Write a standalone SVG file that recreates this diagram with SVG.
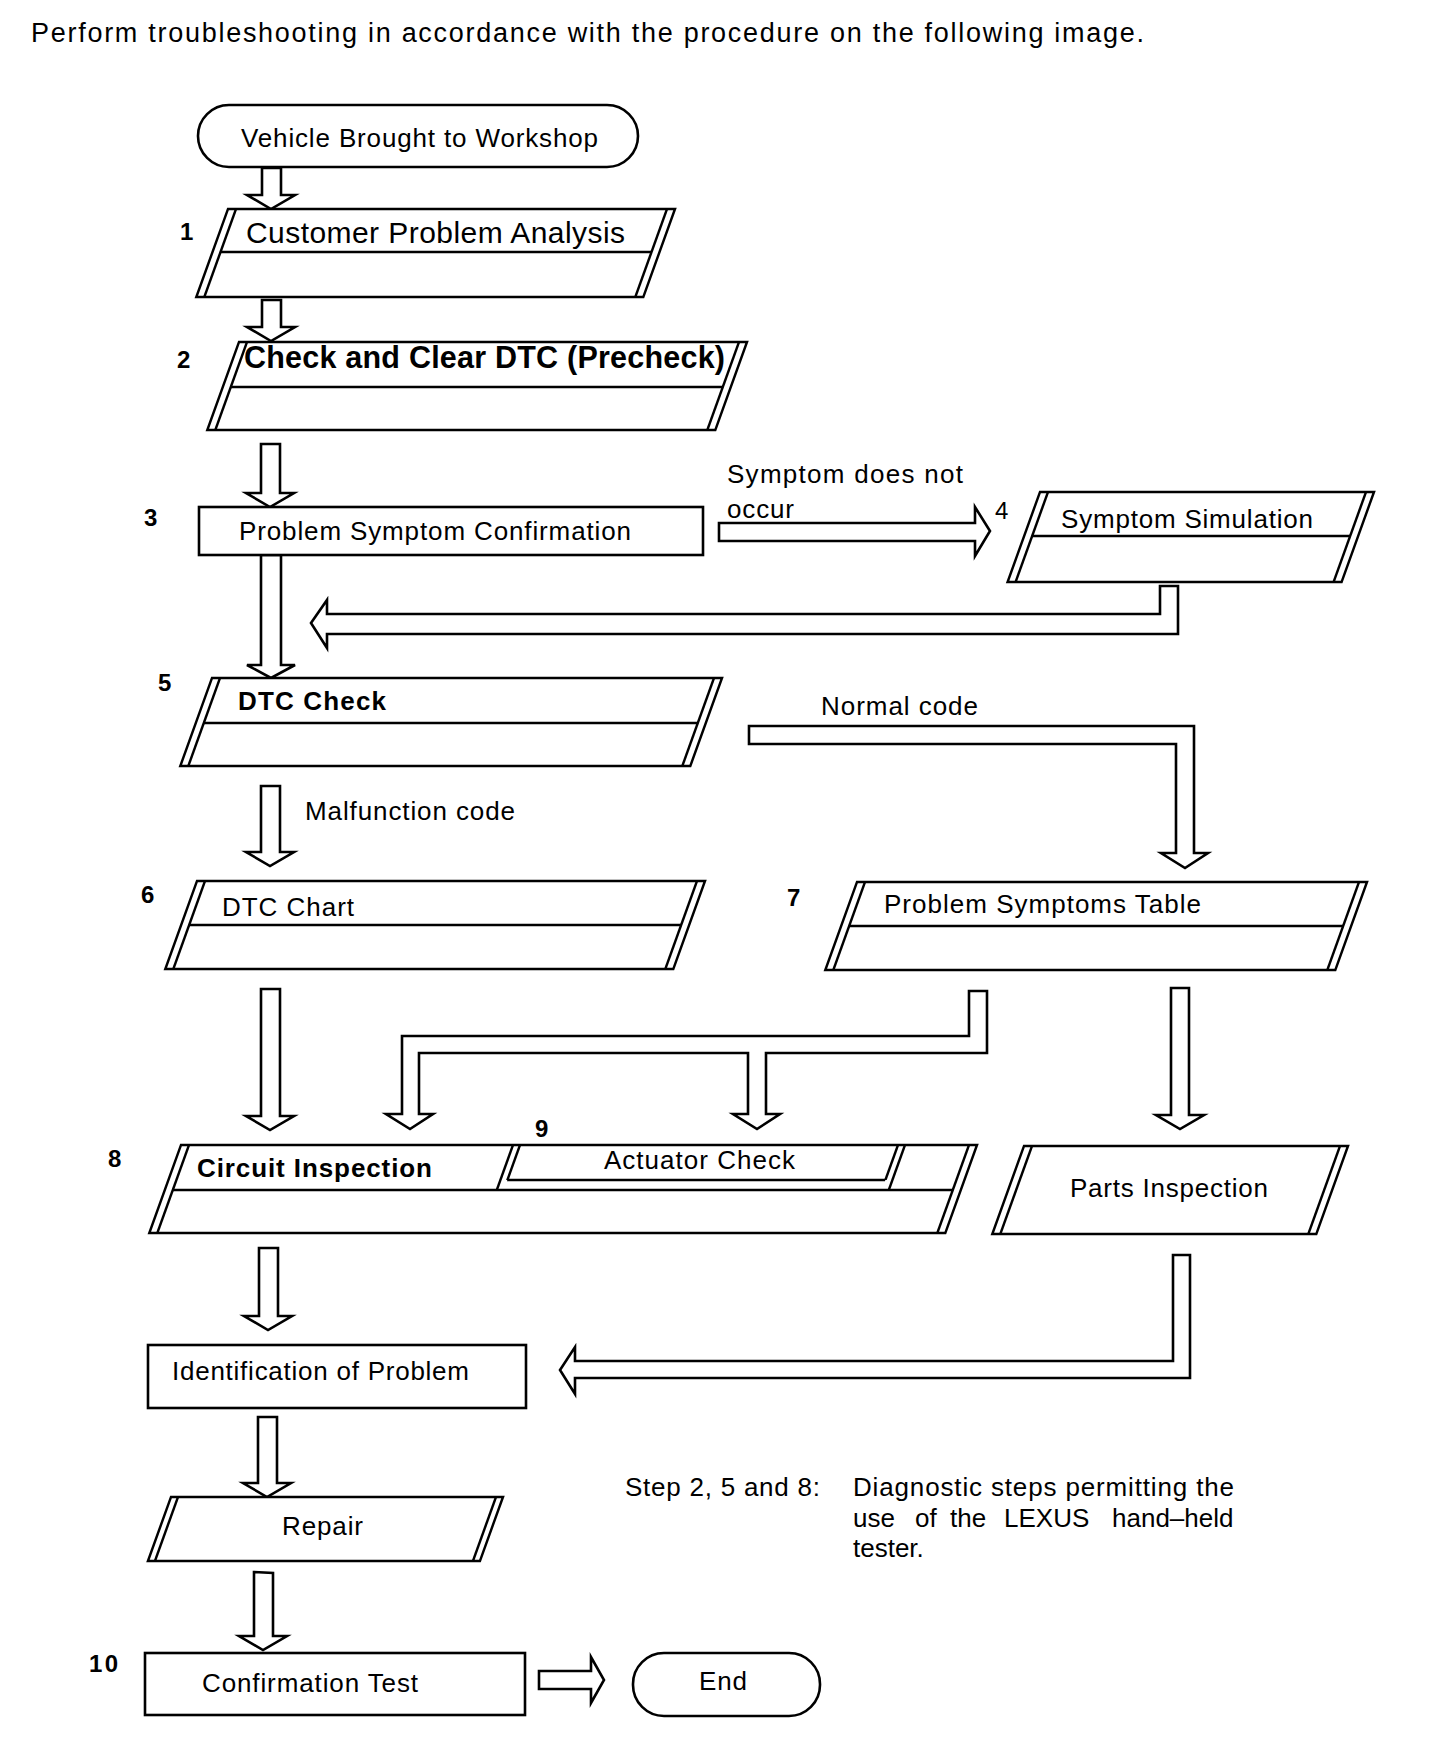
<svg xmlns="http://www.w3.org/2000/svg" width="1440" height="1750" viewBox="0 0 1440 1750">
<style>
.s{fill:#fff;stroke:#000;stroke-width:2.6;stroke-linejoin:miter}
.l{fill:none;stroke:#000;stroke-width:2.6}
.a{fill:#fff;stroke:#000;stroke-width:2.6;stroke-linejoin:miter}
text{font-family:"Liberation Sans",Arial,sans-serif;font-size:26px;fill:#000}
.b{font-weight:bold}
.n{font-weight:bold;font-size:24px}
.big{font-size:30px}
</style>
<rect width="1440" height="1750" fill="#fff"/>
<text x="31" y="42" style="font-size:27px" textLength="1113" lengthAdjust="spacing">Perform troubleshooting in accordance with the procedure on the following image.</text>

<g id="connectors">
<polygon class="a" points="262,168 281,168 281,195 295,195 271,209 247,195 262,195"/>
<polygon class="a" points="262,300 281,300 281,327 295,327 271,341 247,327 262,327"/>
<polygon class="a" points="261,444 280,444 280,493 294,493 270,507 246,493 261,493"/>
<polygon class="a" points="261,555 281,555 281,665 295,665 271,678 247,665 261,665"/>
<polygon class="a" points="261,786 280,786 280,852 294,852 270,866 246,852 261,852"/>
<polygon class="a" points="261,989 280,989 280,1116 294,1116 270,1130 246,1116 261,1116"/>
<polygon class="a" points="259,1248 278,1248 278,1316 292,1316 268,1330 244,1316 259,1316"/>
<polygon class="a" points="258,1417 277,1417 277,1483 291,1483 267,1497 243,1483 258,1483"/>
<polygon class="a" points="254,1572 273,1573 273,1636 287,1636 263,1650 239,1636 254,1636"/>
<polygon class="a" points="719,523 975,523 975,507 990,531 975,556 975,541 719,541"/>
<polygon class="a" points="1160,586 1178,586 1178,634 327,634 327,648 311,623 327,600 327,614 1160,614"/>
<polygon class="a" points="749,726 1194,726 1194,853 1208,853 1185,868 1161,853 1176,853 1176,744 749,744"/>
<polygon class="a" points="969,991 987,991 987,1053 766,1053 766,1114 780,1114 757,1129 733,1114 748,1114 748,1053 419,1053 419,1114 433,1114 410,1129 386,1114 402,1114 402,1036 969,1036"/>
<polygon class="a" points="1171,988 1189,988 1189,1115 1204,1115 1180,1129 1156,1115 1171,1115"/>
<polygon class="a" points="1173,1255 1190,1255 1190,1378 575,1378 575,1394 560,1370 575,1347 575,1361 1173,1361"/>
<polygon class="a" points="539,1671 591,1671 591,1657 604,1680 591,1703 591,1689 539,1689"/>
</g>

<g id="start">
<rect class="s" x="198" y="105" width="440" height="62" rx="31"/>
<text x="241" y="147" textLength="357" lengthAdjust="spacing">Vehicle Brought to Workshop</text>
</g>

<g id="step1">
<g transform="translate(228,209) skewX(-19.8)">
<rect class="s" x="0" y="0" width="447" height="88"/>
<line class="l" x1="8" y1="0" x2="8" y2="88"/><line class="l" x1="439" y1="0" x2="439" y2="88"/>
<line class="l" x1="8" y1="43" x2="439" y2="43"/>
</g>
<text class="n" x="180" y="240">1</text>
<text class="big" x="246" y="243" textLength="379" lengthAdjust="spacing">Customer Problem Analysis</text>
</g>

<g id="step2">
<g transform="translate(239,342) skewX(-19.8)">
<rect class="s" x="0" y="0" width="508" height="88"/>
<line class="l" x1="8" y1="0" x2="8" y2="88"/><line class="l" x1="500" y1="0" x2="500" y2="88"/>
<line class="l" x1="8" y1="45" x2="500" y2="45"/>
</g>
<text class="n" x="177" y="368">2</text>
<text class="b" x="244" y="368" style="font-size:30.5px" textLength="481" lengthAdjust="spacing">Check and Clear DTC (Precheck)</text>
</g>

<g id="step3">
<rect class="s" x="199" y="507" width="504" height="48"/>
<text class="n" x="144" y="526">3</text>
<text x="239" y="540" textLength="392" lengthAdjust="spacing">Problem Symptom Confirmation</text>
</g>

<g id="label-symptom">
<text x="727" y="483" textLength="236" lengthAdjust="spacing">Symptom does not</text>
<text x="727" y="518" textLength="67" lengthAdjust="spacing">occur</text>
</g>

<g id="step4">
<g transform="translate(1040,492) skewX(-19.8)">
<rect class="s" x="0" y="0" width="334" height="90"/>
<line class="l" x1="8" y1="0" x2="8" y2="90"/><line class="l" x1="326" y1="0" x2="326" y2="90"/>
<line class="l" x1="8" y1="44" x2="326" y2="44"/>
</g>
<text x="995" y="519" style="font-size:24px">4</text>
<text x="1061" y="528" textLength="252" lengthAdjust="spacing">Symptom Simulation</text>
</g>

<g id="step5">
<g transform="translate(212,678) skewX(-19.8)">
<rect class="s" x="0" y="0" width="510" height="88"/>
<line class="l" x1="8" y1="0" x2="8" y2="88"/><line class="l" x1="502" y1="0" x2="502" y2="88"/>
<line class="l" x1="8" y1="45" x2="502" y2="45"/>
</g>
<text class="n" x="158" y="691">5</text>
<text class="b" x="238" y="710" textLength="148" lengthAdjust="spacing">DTC Check</text>
</g>

<g id="label-normal">
<text x="821" y="715" textLength="157" lengthAdjust="spacing">Normal code</text>
</g>
<g id="label-malfunction">
<text x="305" y="820" textLength="210" lengthAdjust="spacing">Malfunction code</text>
</g>

<g id="step6">
<g transform="translate(197,881) skewX(-19.8)">
<rect class="s" x="0" y="0" width="508" height="88"/>
<line class="l" x1="8" y1="0" x2="8" y2="88"/><line class="l" x1="500" y1="0" x2="500" y2="88"/>
<line class="l" x1="8" y1="44" x2="500" y2="44"/>
</g>
<text class="n" x="141" y="903">6</text>
<text x="222" y="916" textLength="132" lengthAdjust="spacing">DTC Chart</text>
</g>

<g id="step7">
<g transform="translate(857,882) skewX(-19.8)">
<rect class="s" x="0" y="0" width="510" height="88"/>
<line class="l" x1="8" y1="0" x2="8" y2="88"/><line class="l" x1="502" y1="0" x2="502" y2="88"/>
<line class="l" x1="8" y1="44" x2="502" y2="44"/>
</g>
<text class="n" x="787" y="906">7</text>
<text x="884" y="913" textLength="317" lengthAdjust="spacing">Problem Symptoms Table</text>
</g>

<g id="step8">
<g transform="translate(181,1145) skewX(-19.8)">
<rect class="s" x="0" y="0" width="796" height="88"/>
<line class="l" x1="8" y1="0" x2="8" y2="88"/><line class="l" x1="788" y1="0" x2="788" y2="88"/>
<line class="l" x1="8" y1="45" x2="788" y2="45"/>
<line class="l" x1="332" y1="0" x2="332" y2="45"/>
<line class="l" x1="339" y1="0" x2="339" y2="35"/>
<line class="l" x1="339" y1="35" x2="717" y2="35"/>
<line class="l" x1="717" y1="0" x2="717" y2="35"/>
<line class="l" x1="724" y1="0" x2="724" y2="45"/>
</g>
<text class="n" x="108" y="1167">8</text>
<text class="b" x="197" y="1177" textLength="235" lengthAdjust="spacing">Circuit Inspection</text>
</g>

<g id="step9">
<text class="n" x="535" y="1137">9</text>
<text x="604" y="1169" textLength="191" lengthAdjust="spacing">Actuator Check</text>
</g>

<g id="parts">
<g transform="translate(1024,1146) skewX(-19.8)">
<rect class="s" x="0" y="0" width="324" height="88"/>
<line class="l" x1="8" y1="0" x2="8" y2="88"/><line class="l" x1="316" y1="0" x2="316" y2="88"/>
</g>
<text x="1070" y="1197" textLength="198" lengthAdjust="spacing">Parts Inspection</text>
</g>

<g id="identification">
<rect class="s" x="148" y="1345" width="378" height="63"/>
<text x="172" y="1380" textLength="297" lengthAdjust="spacing">Identification of Problem</text>
</g>

<g id="repair">
<g transform="translate(171,1497) skewX(-19.8)">
<rect class="s" x="0" y="0" width="332" height="64"/>
<line class="l" x1="7" y1="0" x2="7" y2="64"/><line class="l" x1="325" y1="0" x2="325" y2="64"/>
</g>
<text x="282" y="1535" textLength="81" lengthAdjust="spacing">Repair</text>
</g>

<g id="step10">
<rect class="s" x="145" y="1653" width="380" height="62"/>
<text class="n" x="89" y="1672" textLength="29" lengthAdjust="spacing">10</text>
<text x="202" y="1692" textLength="216" lengthAdjust="spacing">Confirmation Test</text>
</g>

<g id="end">
<rect class="s" x="633" y="1653" width="187" height="63" rx="31"/>
<text x="699" y="1690" textLength="48" lengthAdjust="spacing">End</text>
</g>

<g id="note">
<text x="625" y="1496" textLength="195" lengthAdjust="spacing">Step 2, 5 and 8:</text>
<text x="853" y="1496" textLength="381" lengthAdjust="spacing">Diagnostic steps permitting the</text>
<text y="1527"><tspan x="853">use</tspan><tspan x="915">of</tspan><tspan x="950">the</tspan><tspan x="1004">LEXUS</tspan><tspan x="1112">hand–held</tspan></text>
<text x="853" y="1557">tester.</text>
</g>
</svg>
